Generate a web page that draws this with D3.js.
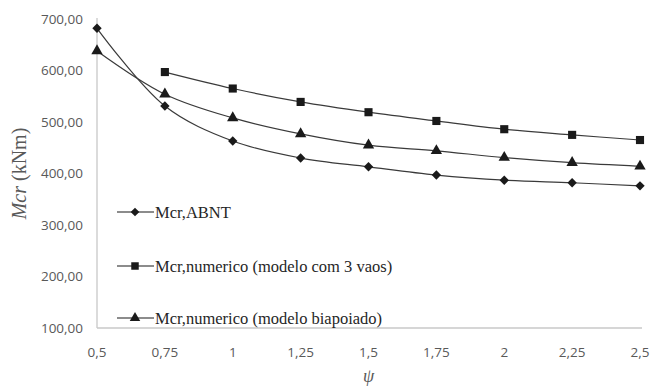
<!DOCTYPE html>
<html>
<head>
<meta charset="utf-8">
<script src="https://cdn.jsdelivr.net/npm/d3@7"></script>
<style>
  html, body { margin: 0; padding: 0; background: #fff; }
  svg { display: block; }
</style>
</head>
<body>
<svg id="chart" width="651" height="389"></svg>
<script>
// ψ values along the x axis
const psi = [0.5, 0.75, 1, 1.25, 1.5, 1.75, 2, 2.25, 2.5];
const xTickLabels = ["0,5", "0,75", "1", "1,25", "1,5", "1,75", "2", "2,25", "2,5"];
const yTicks = [100, 200, 300, 400, 500, 600, 700];

// Mcr (kNm) for each model
const mcrABNT = [682, 531, 463, 430, 413, 397, 387, 382, 376];
const mcrTresVaos = [null, 597, 565, 539, 519, 502, 486, 475, 465];
const mcrBiapoiado = [638, 554, 508, 477, 455, 444, 431, 421, 414];

const seriesNames = [
  "Mcr,ABNT",
  "Mcr,numerico (modelo com 3 vaos)",
  "Mcr,numerico (modelo biapoiado)"
];

// diamond = square turned by 45°
const series = [
  { name: seriesNames[0], values: mcrABNT, symbol: d3.symbolSquare, size: 44, rotate: 45 },
  { name: seriesNames[1], values: mcrTresVaos, symbol: d3.symbolSquare, size: 66, rotate: 0 },
  { name: seriesNames[2], values: mcrBiapoiado, symbol: d3.symbolTriangle, size: 56, rotate: 0 }
];

const svg = d3.select("#chart");
const plot = { left: 97, right: 640, top: 19, bottom: 328 };

const x = d3.scaleLinear().domain([0.5, 2.5]).range([plot.left, plot.right]);
const y = d3.scaleLinear().domain([100, 700]).range([plot.bottom, plot.top]);

const axisColor = "#c8c8c8";
const labelColor = "#595959";

// axis lines
svg.append("line")
  .attr("x1", plot.left).attr("x2", plot.left).attr("y1", plot.top - 1).attr("y2", plot.bottom)
  .attr("stroke", axisColor).attr("stroke-width", 1.3);
svg.append("line")
  .attr("x1", plot.left).attr("x2", 642).attr("y1", plot.bottom).attr("y2", plot.bottom)
  .attr("stroke", axisColor).attr("stroke-width", 1.3);

// y tick labels
svg.append("g").selectAll("text").data(yTicks).join("text")
  .attr("x", 83).attr("y", d => y(d)).attr("dy", "0.35em")
  .attr("text-anchor", "end")
  .attr("font-family", "'Open Sans', sans-serif").attr("font-size", 13.5)
  .attr("fill", labelColor)
  .text(d => d3.format(".2f")(d).replace(".", ","));

// x tick labels
svg.append("g").selectAll("text").data(psi).join("text")
  .attr("x", d => x(d)).attr("y", 352).attr("dy", "0.35em")
  .attr("text-anchor", "middle")
  .attr("font-family", "'Open Sans', sans-serif").attr("font-size", 13.5)
  .attr("fill", labelColor)
  .text((d, i) => xTickLabels[i]);

// axis titles
const yTitle = svg.append("text")
  .attr("transform", `translate(26,${(plot.top + plot.bottom) / 2}) rotate(-90)`)
  .attr("text-anchor", "middle")
  .attr("font-family", "'Liberation Serif', serif").attr("font-size", 20)
  .attr("fill", labelColor);
yTitle.append("tspan").attr("font-style", "italic").text("Mcr");
yTitle.append("tspan").text(" (kNm)");

svg.append("text")
  .attr("x", x(1.5)).attr("y", 382)
  .attr("text-anchor", "middle")
  .attr("font-family", "'Liberation Serif', serif").attr("font-style", "italic")
  .attr("font-size", 18).attr("fill", labelColor)
  .text("ψ");

// series lines and markers
const line = d3.line()
  .x(d => x(d[0])).y(d => y(d[1]))
  .curve(d3.curveCatmullRom.alpha(0.5));

series.forEach(s => {
  const pts = psi.map((p, i) => [p, s.values[i]]).filter(d => d[1] != null);
  svg.append("path")
    .attr("d", line(pts))
    .attr("fill", "none").attr("stroke", "#3a3a3a").attr("stroke-width", 1.2);
  svg.append("g").selectAll("path").data(pts).join("path")
    .attr("transform", d => `translate(${x(d[0])},${y(d[1])}) rotate(${s.rotate})`)
    .attr("d", d3.symbol().type(s.symbol).size(s.size))
    .attr("fill", "#1a1a1a");
});

// legend
const legendRows = [212, 266, 318];
series.forEach((s, i) => {
  const g = svg.append("g").attr("transform", `translate(117,${legendRows[i]})`);
  g.append("line").attr("x1", 0).attr("x2", 37).attr("y1", 0).attr("y2", 0)
    .attr("stroke", "#1a1a1a").attr("stroke-width", 1.2);
  g.append("path").attr("transform", `translate(18,0) rotate(${s.rotate})`)
    .attr("d", d3.symbol().type(s.symbol).size(s.size * 0.85)).attr("fill", "#1a1a1a");
  g.append("text").attr("x", 38).attr("y", 0).attr("dy", "0.35em")
    .attr("font-family", "'Liberation Serif', serif").attr("font-size", 16.5)
    .attr("fill", "#262626")
    .text(s.name);
});
</script>
</body>
</html>
